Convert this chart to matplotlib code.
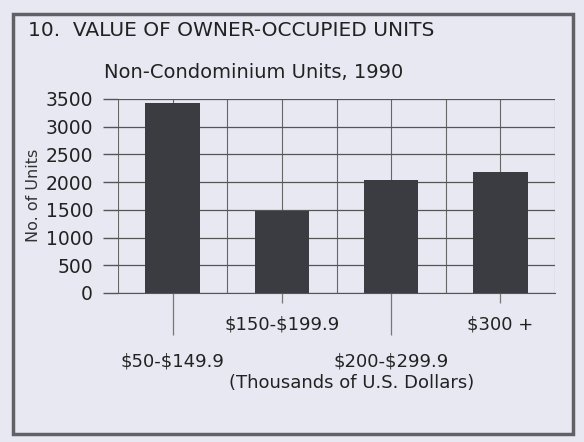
import numpy as np
import matplotlib
matplotlib.use("Agg")
import matplotlib.pyplot as plt
from matplotlib.patches import Rectangle

plt.rcParams["text.parse_math"] = False

# data
categories = ["$50-$149.9", "$150-$199.9", "$200-$299.9", "$300 +"]
units = [3430, 1480, 2040, 2180]
yticks = [0, 500, 1000, 1500, 2000, 2500, 3000, 3500]

bg = "#e8e8f2"
W, H = 584, 442
fig = plt.figure(figsize=(W / 100, H / 100), dpi=100, facecolor=bg)

def fx(px):
    return px / W

def fy(py):
    return 1 - py / H

ax = fig.add_axes([fx(118), fy(293), fx(555) - fx(118), fy(99) - fy(293)])
ax.set_facecolor(bg)

x = np.arange(len(categories))
ax.bar(x, units, width=0.5, color="#3b3b42", zorder=3)

ax.set_xlim(-0.5, len(categories) - 0.5)
ax.set_ylim(0, 3500)
ax.set_yticks(yticks)
ax.set_yticklabels([str(v) for v in yticks], fontsize=13.5, color="#222222")
ax.tick_params(axis="y", length=11, width=1, color="#555555", pad=7)

# vertical grid at category edges and centres
ax.set_xticks(np.arange(-0.5, len(categories), 0.5), minor=True)
ax.grid(True, which="both", axis="x", color="#666666", lw=0.8, zorder=1)
ax.grid(True, which="major", axis="y", color="#555555", lw=0.9, zorder=1)
ax.tick_params(axis="x", which="minor", length=0)

ax.set_xticks(x)
ax.set_xticklabels(categories, fontsize=13, color="#222222")
ax.tick_params(axis="x", which="major", length=4, width=0.9, color="#777777")
for i, t in enumerate(ax.xaxis.get_major_ticks()):
    if i % 2 == 0:
        t.set_pad(39)
        t.tick1line.set_markersize(30)
    else:
        t.set_pad(12)
        t.tick1line.set_markersize(7)

for s in ["top", "right", "left"]:
    ax.spines[s].set_visible(False)
ax.spines["bottom"].set_color("#555555")

fig.text(fx(33), fy(195), "No. of Units", rotation=90, ha="center", va="center",
         fontsize=11.5, color="#333333")

fig.text(fx(28), fy(30), "10.  VALUE OF OWNER-OCCUPIED UNITS", ha="left", va="center",
         fontsize=14.5, color="#222222")
fig.text(fx(254), fy(72), "Non-Condominium Units, 1990", ha="center", va="center",
         fontsize=14, color="#222222")
fig.text(fx(352), fy(383), "(Thousands of U.S. Dollars)", ha="center", va="center",
         fontsize=13, color="#222222")

# outer frame
fig.patches.append(Rectangle((fx(13), fy(434)), fx(573) - fx(13), fy(14) - fy(434),
                             transform=fig.transFigure, fill=False,
                             edgecolor="#606066", lw=2.5))

fig.savefig("out.png", dpi=100, facecolor=bg)
